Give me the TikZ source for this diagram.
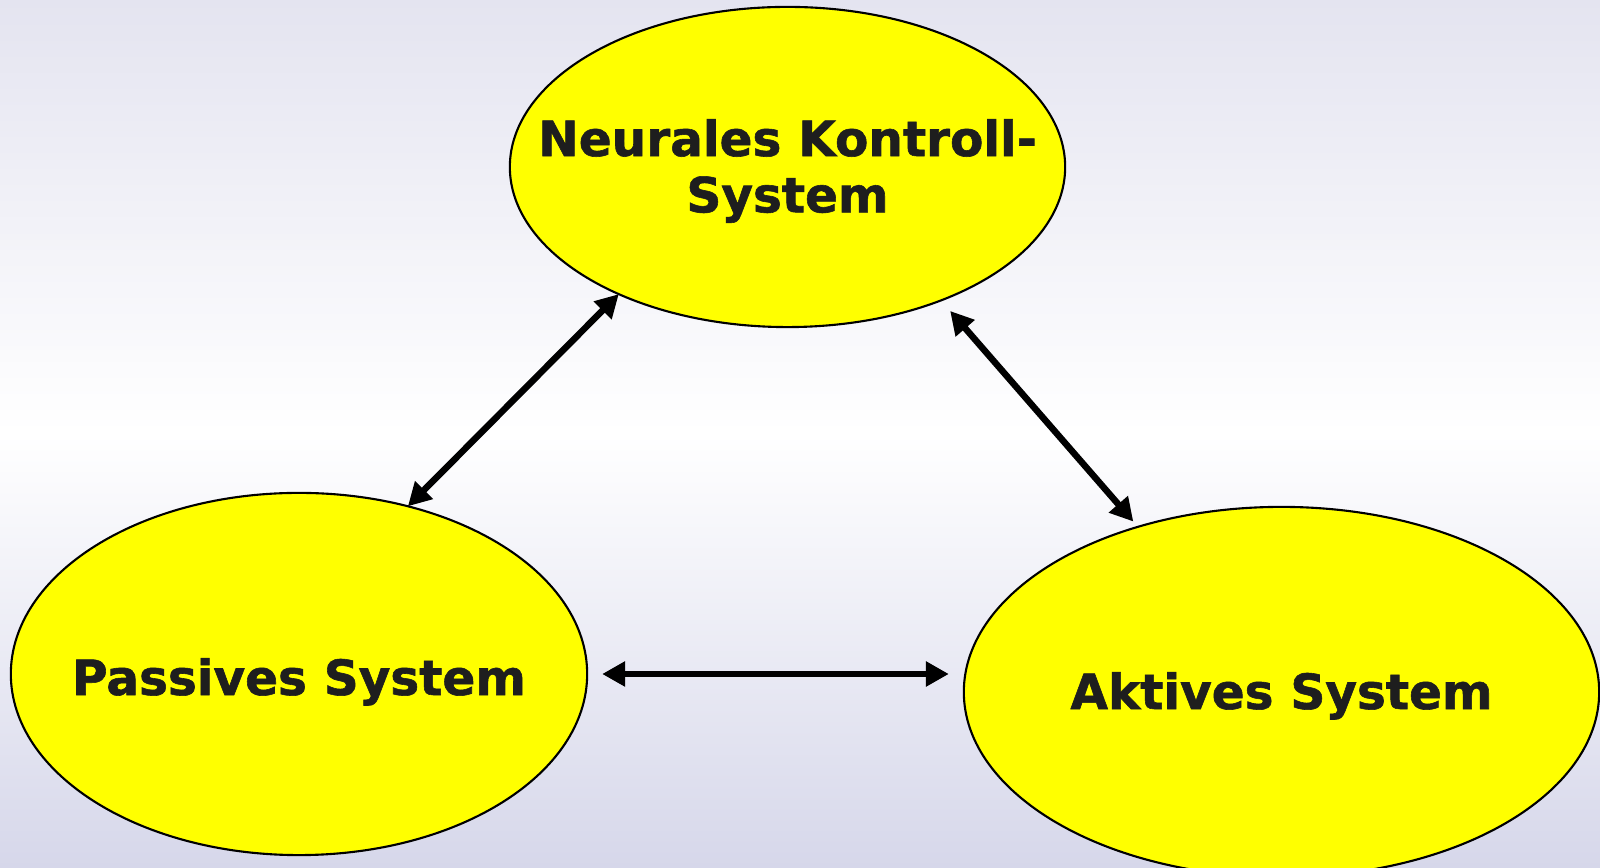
\documentclass[tikz,border=0pt]{standalone}
\usepackage{fontspec}
\setsansfont{DejaVu Sans}[BoldFeatures={FakeBold=1.2}]
\usetikzlibrary{shapes.geometric, arrows.meta, positioning}
\definecolor{bgtop}{RGB}{228,228,240}
\definecolor{bgbottom}{RGB}{214,215,234}
\definecolor{blobyellow}{RGB}{255,255,0}
\definecolor{textgray}{RGB}{30,30,30}

\begin{document}
\begin{tikzpicture}[
      x = 0.01cm, y = -0.01cm,
      blob/.style     = {ellipse, draw=black, line width=0.6pt, fill=blobyellow,
                         inner sep=0pt, outer sep=0pt},
      blobtext/.style = {align=center, text=textgray, inner sep=0pt,
                         font=\sffamily\bfseries\fontsize{13.8}{16}\selectfont},
      arrow/.style    = {{Triangle[length=0.23cm, width=0.24cm]}-{Triangle[length=0.23cm, width=0.24cm]},
                         line width=0.065cm, color=black}
    ]

    % Background
    \useasboundingbox (0,0) rectangle (1600,868);
    \shade[top color=bgtop, bottom color=bgbottom, middle color=white] (0,0) rectangle (1600,868);

    % Nodes
    \node[blob, minimum width=5.55cm, minimum height=3.20cm] (neural)  at (787.5,167) {};
    \node[blob, minimum width=5.76cm, minimum height=3.62cm] (passive) at (299,674) {};
    \node[blob, minimum width=6.35cm, minimum height=3.70cm] (active)  at (1281.5,692) {};

    \node[blobtext] (neuraltext) at ([yshift=-0.04cm]neural.center) {Neurales Kontroll-\\System};
    \node[blobtext, anchor=base] (passivetext) at ([yshift=-0.21cm]passive.center) {Passives System};
    \node[blobtext, anchor=base] (activetext)  at ([yshift=-0.17cm]active.center)  {Aktives System};

    % Relationships
    \draw[arrow] (passive.57) -- (neural.217);
    \draw[arrow, shorten <=0.14cm, shorten >=0.07cm] (neural.319) -- (active.131);
    \draw[arrow, shorten <=0.15cm, shorten >=0.15cm] (passive.east) -- (passive.east -| active.west);

  \end{tikzpicture}
\end{document}
